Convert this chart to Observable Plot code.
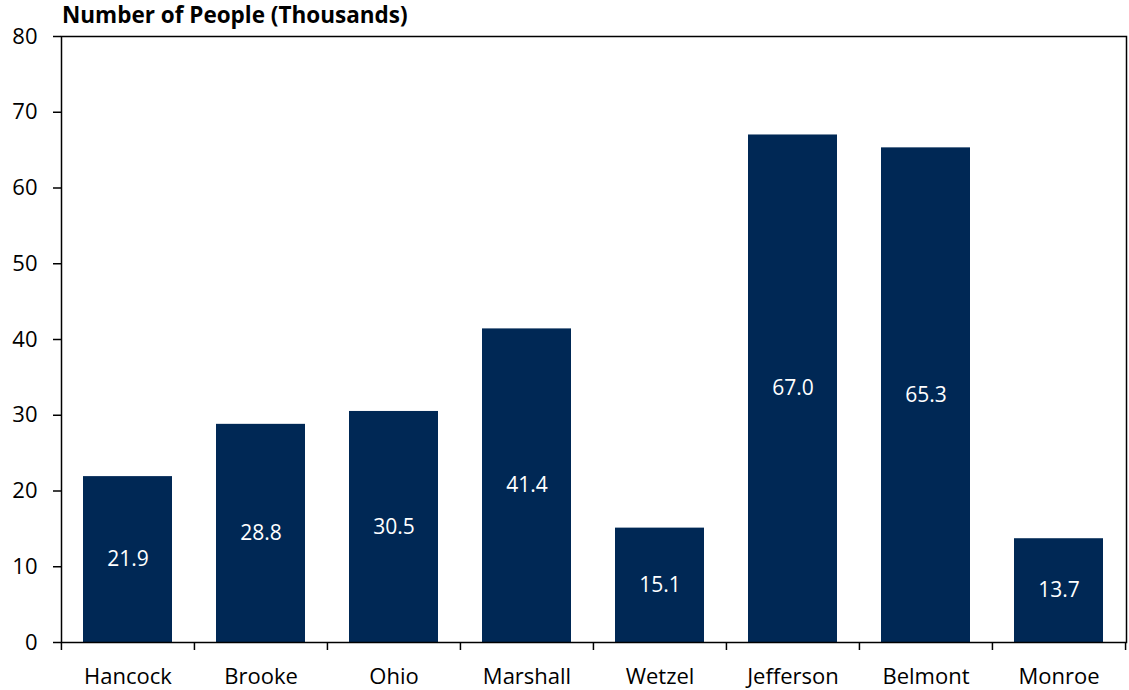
<!DOCTYPE html>
<html>
<head>
<meta charset="utf-8">
<script src="https://cdn.jsdelivr.net/npm/d3@7"></script>
<script src="https://cdn.jsdelivr.net/npm/@observablehq/plot@0.6"></script>
<style>
  html, body { margin: 0; padding: 0; background: #fff; }
  #wrap { width: 1129px; height: 690px; position: relative; font-family: "Open Sans", Lato, sans-serif; }
  #title { position: absolute; left: 62px; top: -1px; font-weight: bold; font-size: 22.5px; color: #000; white-space: nowrap; }
  #chart { position: absolute; left: 0; top: 0; }
</style>
</head>
<body>
<div id="wrap">
  <div id="chart"></div>
  <div id="title">Number of People (Thousands)</div>
</div>
<script>
const categories = ["Hancock", "Brooke", "Ohio", "Marshall", "Wetzel", "Jefferson", "Belmont", "Monroe"];
const values = [21.9, 28.8, 30.5, 41.4, 15.1, 67.0, 65.3, 13.7];
const yTicks = [0, 10, 20, 30, 40, 50, 60, 70, 80];

const data = categories.map((c, i) => ({county: c, value: values[i]}));

const W = 1129, H = 690;
const mL = 61, mR = 3, mT = 36, mB = 48;
const step = (W - mL - mR) / categories.length;
const pxPerUnit = (H - mT - mB) / 80;
const tickLen = 8 / pxPerUnit;

const chart = Plot.plot({
  width: W,
  height: H,
  marginLeft: mL,
  marginRight: mR,
  marginTop: mT,
  marginBottom: mB,
  style: { fontFamily: "'Open Sans', Lato, sans-serif", fontSize: "22px", color: "#000", background: "#fff" },
  x: { domain: categories, paddingInner: 0.33, paddingOuter: 0.165, label: null },
  y: { domain: [0, 80], label: null },
  marks: [
    Plot.barY(data, { x: "county", y: "value", fill: "#002855" }),
    Plot.text(data, { x: "county", y: d => d.value / 2, text: d => d.value.toFixed(1), fill: "#fff", fontSize: 21 }),
    Plot.frame({ stroke: "#000", strokeWidth: 1.5 }),
    Plot.axisY({ ticks: yTicks, tickSize: 8, tickPadding: 16, tickFormat: d => String(d), fontSize: 22, strokeWidth: 1.5, label: null }),
    Plot.axisX({ tickSize: 0, tickPadding: 26, fontSize: 22, label: null }),
    Plot.ruleX(categories, { x: d => d, dx: -step / 2, y1: 0, y2: -tickLen, stroke: "#000", strokeWidth: 1.5 }),
    Plot.ruleX([categories[categories.length - 1]], { x: d => d, dx: step / 2, y1: 0, y2: -tickLen, stroke: "#000", strokeWidth: 1.5 })
  ]
});
document.getElementById("chart").appendChild(chart);
</script>
</body>
</html>
